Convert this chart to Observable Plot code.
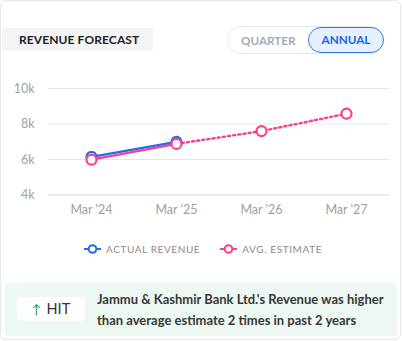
<!DOCTYPE html>
<html><head><meta charset="utf-8">
<script src="https://cdn.jsdelivr.net/npm/d3@7"></script>
<script src="https://cdn.jsdelivr.net/npm/@observablehq/plot@0.6"></script>
<style>
body{margin:0;width:402px;height:341px;background:#fff;font-family:Lato,"Noto Sans",sans-serif;overflow:hidden}
#card{position:absolute;left:0;top:0;width:399px;height:338px;border:1px solid #e6e8ec;border-radius:6px;background:#fff}
#title{position:absolute;left:2px;top:28px;width:151px;height:23px;background:#f3f4f6;border-radius:3px;font-weight:700;font-size:12px;letter-spacing:0.1px;color:#222;line-height:23px;padding-left:17px;box-sizing:border-box}
#toggle{position:absolute;left:227px;top:26px;width:157px;height:28px;border:1px solid #e3e6eb;border-radius:15px;box-sizing:border-box}
#q{position:absolute;left:241px;top:26px;height:28px;line-height:28px;font-size:11.7px;font-weight:700;color:#a3abb9}
#a{position:absolute;left:308px;top:27px;width:76px;height:26px;border:1.5px solid #2f7bf0;background:#e7f0fe;border-radius:14px;box-sizing:border-box;text-align:center;line-height:23px;font-size:11.7px;font-weight:700;color:#1767e0}
#chart{position:absolute;left:0;top:70px}
#legend{position:absolute;left:2px;top:243px;width:402px;text-align:center;font-size:10px;letter-spacing:0.6px;color:#8a8a8a}
#legend span.item{display:inline-flex;align-items:center;margin:0 10px}
#legend svg{margin-right:5px}
#hitbox{position:absolute;left:5px;top:283px;width:392px;height:53px;background:#eef8f2;border-radius:4px}
#hit{position:absolute;left:17px;top:297px;width:68px;height:24px;background:#fff;border-radius:5px;font-size:14.5px;color:#333;line-height:24px;text-align:center}
#hit b{color:#129a5a;font-weight:400;font-size:13px;margin-right:5px}
#msg{position:absolute;left:97px;top:289px;width:300px;font-size:13px;font-weight:700;color:#383838;line-height:21px}
</style></head>
<body>
<div id="card"></div>
<div id="title">REVENUE FORECAST</div>
<div id="toggle"></div>
<div id="q">QUARTER</div>
<div id="a">ANNUAL</div>
<div id="chart"></div>
<div id="legend"></div>
<div id="hitbox"></div>
<div id="hit"><b>↑</b>HIT</div>
<div id="msg">Jammu &amp; Kashmir Bank Ltd.'s Revenue was higher than average estimate 2 times in past 2 years</div>
<script>
const periods = ["Mar '24", "Mar '25", "Mar '26", "Mar '27"];
const actualPeriods = ["Mar '24", "Mar '25"];
const actualRevenue = [6150, 6990];
const estimatePeriods = ["Mar '24", "Mar '25", "Mar '26", "Mar '27"];
const avgEstimate = [5990, 6880, 7600, 8580];
const yTicks = [4000, 6000, 8000, 10000];
const seriesNames = ["ACTUAL REVENUE", "AVG. ESTIMATE"];
const colors = ["#1f6cf2", "#fb3f8c"];

const actual = actualPeriods.map((p, i) => ({p, v: actualRevenue[i]}));
const est = estimatePeriods.map((p, i) => ({p, v: avgEstimate[i]}));
const lastActualIdx = actualPeriods.length - 1;
const estPast = est.slice(0, lastActualIdx + 1);
const estFuture = est.slice(lastActualIdx);

const chart = Plot.plot({
  width: 402, height: 150,
  marginLeft: 48, marginRight: 13, marginTop: 18, marginBottom: 25.5,
  style: {fontFamily: "Lato, sans-serif", fontSize: "12.5px", color: "#a0a0a0", background: "transparent"},
  x: {type: "point", domain: periods, padding: 0.5, label: null, tickSize: 0, tickPadding: 10},
  y: {domain: [4000, 10000], ticks: yTicks, tickFormat: d => d / 1000 + "k", label: null, tickSize: 0, tickPadding: 14},
  marks: [
    Plot.gridY(yTicks.slice(1), {stroke: "#e6e6e6", strokeOpacity: 1}),
    Plot.ruleY([yTicks[0]], {stroke: "#c8d6ea"}),
    Plot.line(actual, {x: "p", y: "v", stroke: colors[0], strokeWidth: 2.2}),
    Plot.dot(actual, {x: "p", y: "v", r: 5, fill: "#fff", stroke: colors[0], strokeWidth: 2.2}),
    Plot.line(estPast, {x: "p", y: "v", stroke: colors[1], strokeWidth: 2.2}),
    Plot.line(estFuture, {x: "p", y: "v", stroke: colors[1], strokeWidth: 2.4, strokeDasharray: "2.2,3"}),
    Plot.dot(est, {x: "p", y: "v", r: 5, fill: "#fff", stroke: colors[1], strokeWidth: 2.2})
  ]
});
document.getElementById("chart").appendChild(chart);

const legend = document.getElementById("legend");
seriesNames.forEach((n, i) => {
  const s = document.createElement("span");
  s.className = "item";
  s.innerHTML = `<svg width="17" height="12"><line x1="0" y1="6" x2="17" y2="6" stroke="${colors[i]}" stroke-width="2"/><circle cx="8.5" cy="6" r="3.8" fill="#fff" stroke="${colors[i]}" stroke-width="2"/></svg>${n}`;
  legend.appendChild(s);
});
</script>
</body></html>
